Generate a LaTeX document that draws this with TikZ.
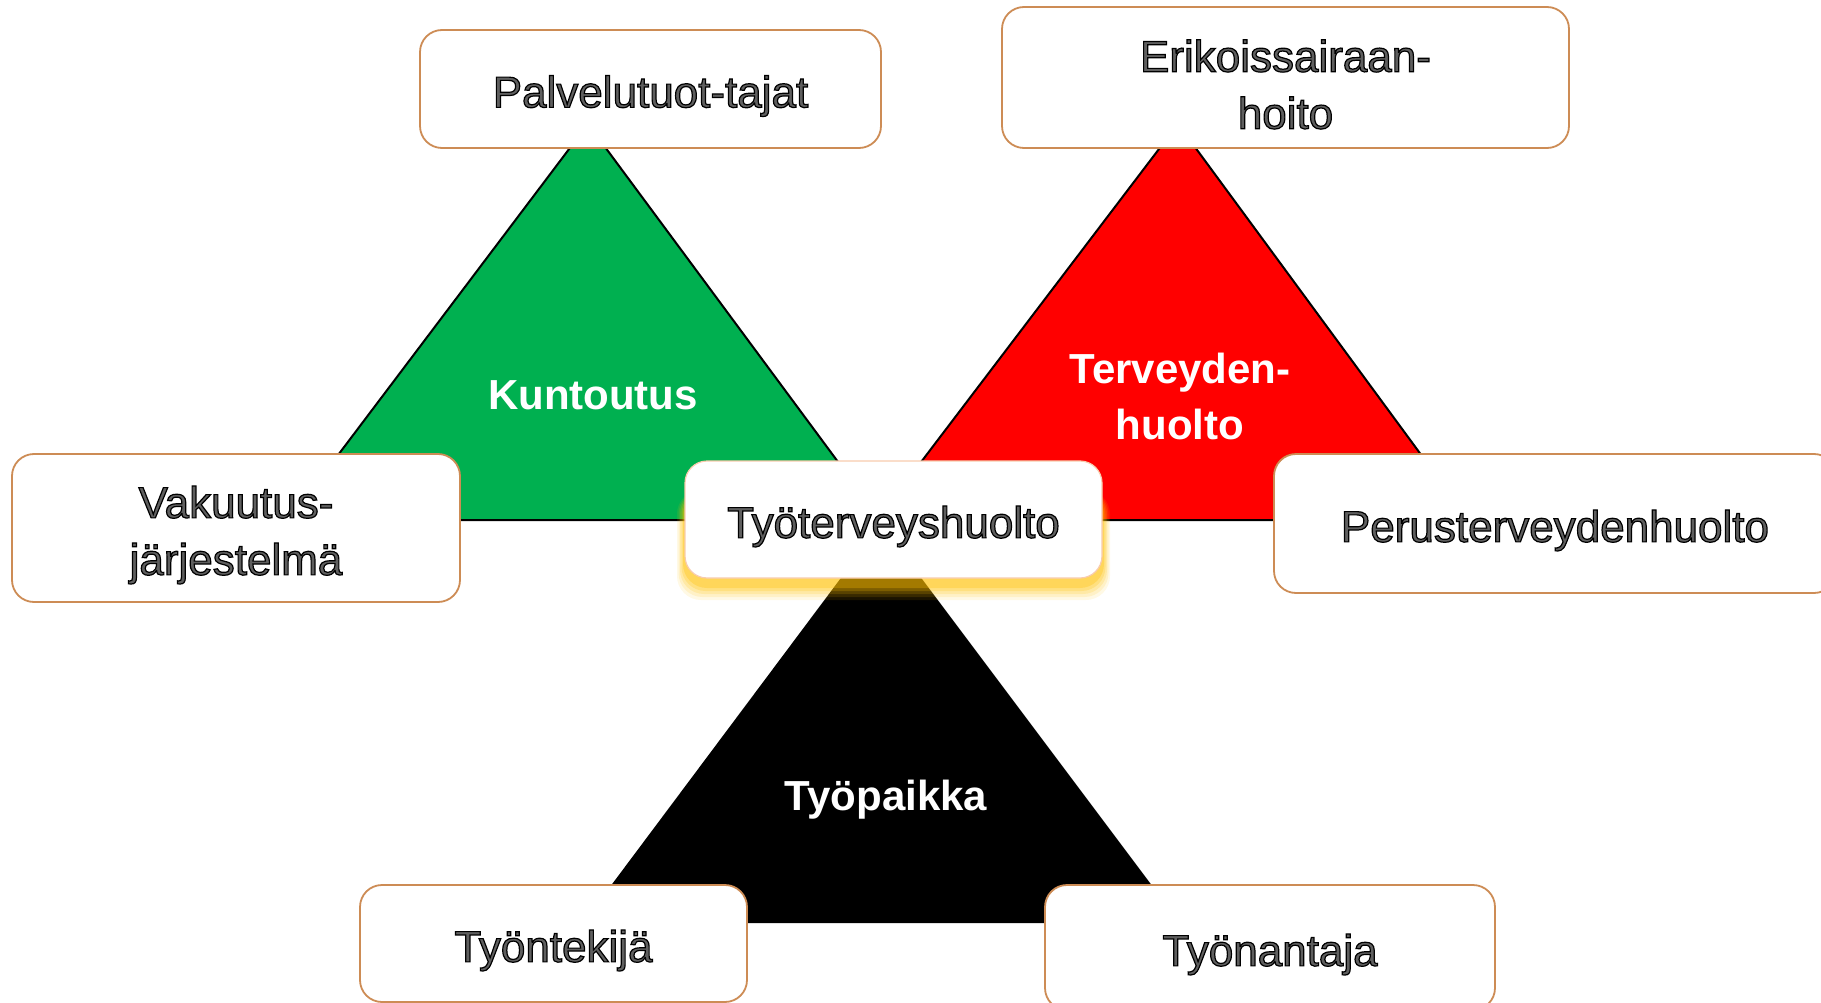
\documentclass[tikz,border=0pt]{standalone}
\usepackage{fontspec}
\setmainfont{Liberation Sans}
\definecolor{kgreen}{RGB}{0,176,80}
\definecolor{kred}{RGB}{255,0,0}
\definecolor{bordr}{RGB}{205,140,85}
\definecolor{lightbordr}{RGB}{248,203,173}
\definecolor{glowc}{RGB}{255,192,0}
\definecolor{txtfill}{RGB}{95,95,95}
\newcommand{\outl}[1]{\raisebox{-7pt}[\height][\depth]{\special{pdf:literal direct 2 Tr 1.2 w 0 0 0 RG}#1\special{pdf:literal direct 0 Tr}}}
\tikzset{
  lbox/.style={draw=bordr, line width=1.8pt, rounded corners=22pt, fill=white,
    text=txtfill, font=\fontsize{44}{57}\selectfont, align=center, inner sep=0pt},
  tlabel/.style={text=white, font=\bfseries\fontsize{42}{56}\selectfont, align=center, inner sep=0pt},
  tri/.style={draw=black, line width=2pt, line join=miter}
}
\begin{document}
\begin{tikzpicture}[x=1pt,y=-1pt]
\useasboundingbox (0,0) rectangle (1821,1003);
% triangles
\filldraw[tri, fill=kgreen] (588,124) -- (289,520) -- (881,520) -- cycle;
\filldraw[tri, fill=kred] (1178,124) -- (877,520) -- (1469,520) -- cycle;
\filldraw[tri, fill=black] (881,526) -- (585,922) -- (1178,922) -- cycle;
% triangle labels
\node[tlabel] (kun) at (593,395) {Kuntoutus};
\node[tlabel] (ter) at (1180,396) {Terveyden-\\huolto};
\node[tlabel] (tpa) at (886,800) {Työpaikka};
% glow under the central box
\foreach \r/\o in {16/0.10, 13/0.13, 10/0.17, 7/0.22, 4/0.3}
  \fill[glowc, opacity=\o, rounded corners=24pt] (685-0.5*\r,490) rectangle (1102+0.5*\r,584+\r);
% boxes
\node[lbox, minimum width=461pt, minimum height=118pt] (pal) at (650.5,89) {\outl{Palvelutuot-tajat}};
\node[lbox, minimum width=567pt, minimum height=141pt] (eri) at (1285.5,77.5) {\outl{Erikoissairaan-}\\\outl{hoito}};
\node[lbox, minimum width=448pt, minimum height=148pt] (vak) at (236,528) {\outl{Vakuutus-}\\\outl{järjestelmä}};
\node[lbox, minimum width=562pt, minimum height=139pt] (per) at (1555,523.5) {\outl{Perusterveydenhuolto}};
\node[lbox, minimum width=387pt, minimum height=117pt] (tek) at (553.5,943.5) {\outl{Työntekijä}};
\node[lbox, minimum width=450pt, minimum height=125pt] (ant) at (1270,947.5) {\outl{Työnantaja}};
\node[lbox, draw=lightbordr, line width=1.2pt, minimum width=417pt, minimum height=117pt] (tth) at (893.5,519.5) {\outl{Työterveyshuolto}};
\end{tikzpicture}
\end{document}
